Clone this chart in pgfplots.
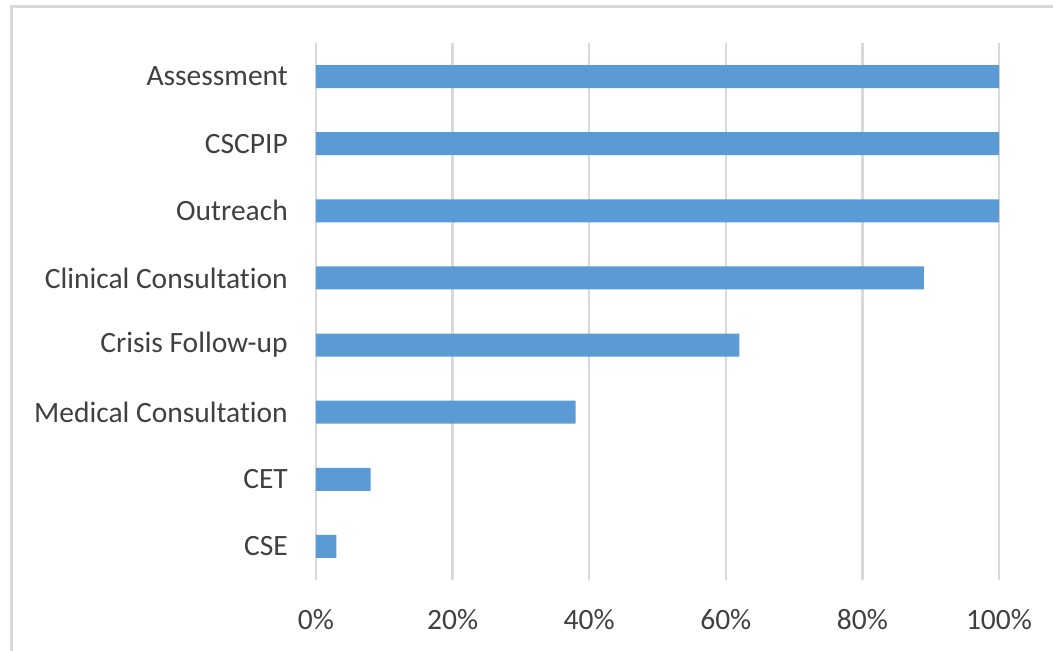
\documentclass[border=0pt]{standalone}
\usepackage{pgfplots}
\pgfplotsset{compat=1.18}
\usepackage{fontspec}
\setmainfont[Ligatures=NoCommon]{Carlito}
\definecolor{barblue}{HTML}{5B9BD5}
\definecolor{gridgray}{HTML}{D9D9D9}
\definecolor{txt}{HTML}{404040}
\begin{document}
\begin{tikzpicture}
\path[use as bounding box] (0pt,0pt) rectangle (1053pt,651pt);
\draw[gridgray, line width=2.5pt] (11.5pt,0pt) -- (11.5pt,644.5pt) -- (1053pt,644.5pt);
\begin{axis}[
  at={(316pt,71pt)}, anchor=south west,
  scale only axis, width=683pt, height=537pt,
  xmin=0, xmax=100, ymin=0.5, ymax=8.5,
  axis line style={draw=none},
  major tick length=0pt,
  xtick={0,20,40,60,80,100},
  xticklabels={0\%,20\%,40\%,60\%,80\%,100\%},
  ytick={1,2,3,4,5,6,7,8},
  yticklabels={CSE,CET,Medical Consultation,Crisis Follow-up,Clinical Consultation,Outreach,CSCPIP,Assessment},
  xmajorgrids, ymajorgrids=false,
  grid style={color=gridgray, line width=2.5pt},
  tick label style={font=\fontsize{29.5}{35}\selectfont, text=txt, inner sep=0pt},
  yticklabel style={anchor=east, xshift=-28pt},
  xticklabel style={anchor=north, yshift=-29pt},
]
\addplot[xbar, fill=barblue, draw=none, bar width=23pt] coordinates {
(3,1) (8,2) (38,3) (62,4) (89,5) (100,6) (100,7) (100,8)};
\end{axis}
\end{tikzpicture}
\end{document}
